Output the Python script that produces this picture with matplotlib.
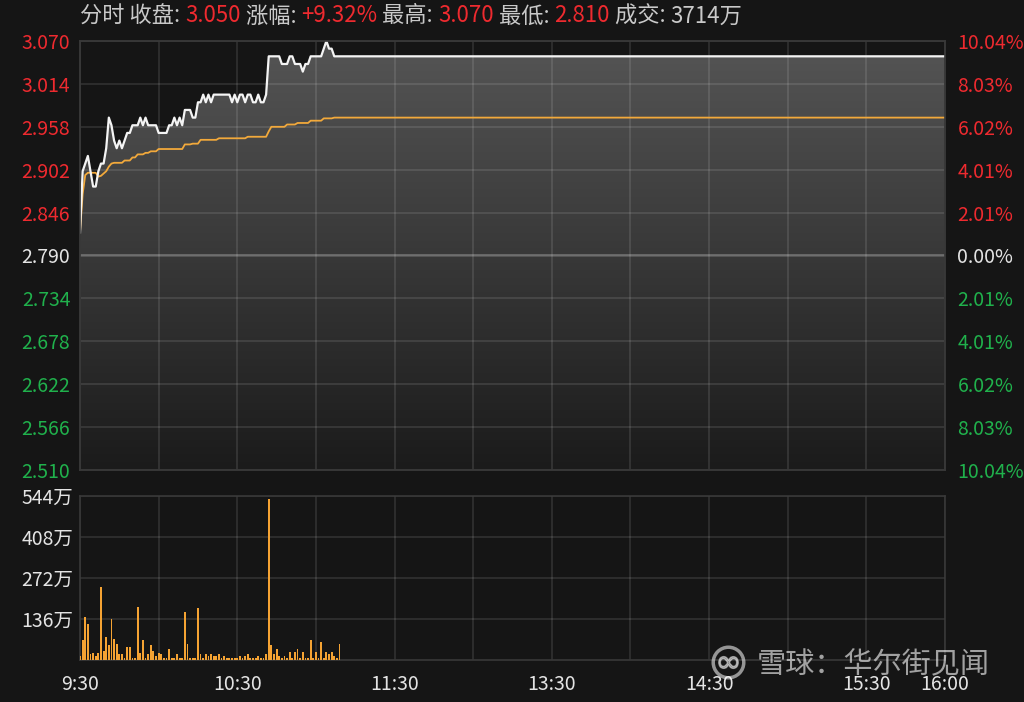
import numpy as np
import pandas as pd
import matplotlib
matplotlib.use("Agg")
import matplotlib.pyplot as plt
from matplotlib.colors import LinearSegmentedColormap
from matplotlib.offsetbox import TextArea, HPacker, AnchoredOffsetbox
from matplotlib.lines import Line2D

plt.rcParams['font.family'] = ['Noto Sans CJK SC', 'DejaVu Sans']

# ---- data (minutes after 9:30, HK session 9:30-12:00 / 13:00-16:00) ----
prev_close = 2.790
price = [2.82, 2.90, 2.91, 2.92, 2.90, 2.88, 2.88, 2.90, 2.91, 2.91,
         2.93, 2.97, 2.96, 2.94, 2.93, 2.94, 2.93, 2.94, 2.95, 2.95,
         2.96, 2.96, 2.96, 2.97, 2.96, 2.97, 2.96, 2.96, 2.96, 2.96,
         2.95, 2.95, 2.95, 2.95, 2.96, 2.96, 2.97, 2.96, 2.97, 2.96,
         2.98, 2.98, 2.98, 2.97, 2.97, 2.99, 2.99, 3.00, 2.99, 3.00,
         2.99, 3.00, 3.00, 3.00, 3.00, 3.00, 3.00, 3.00, 2.99, 3.00,
         2.99, 3.00, 3.00, 2.99, 3.00, 3.00, 2.99, 2.99, 3.00, 2.99,
         2.99, 3.00, 3.05, 3.05, 3.05, 3.05, 3.05, 3.04, 3.04, 3.04,
         3.05, 3.05, 3.04, 3.04, 3.04, 3.03, 3.04, 3.04, 3.05, 3.05,
         3.05, 3.05, 3.05, 3.06, 3.07, 3.06, 3.06, 3.05, 3.05, 3.05]
avg_price = [2.820, 2.870, 2.895, 2.898, 2.898, 2.898, 2.898, 2.893, 2.894, 2.897,
             2.900, 2.906, 2.910, 2.911, 2.911, 2.911, 2.911, 2.914, 2.914, 2.914,
             2.918, 2.918, 2.922, 2.922, 2.922, 2.924, 2.924, 2.926, 2.926, 2.926,
             2.929, 2.929, 2.929, 2.929, 2.929, 2.929, 2.929, 2.929, 2.929, 2.929,
             2.935, 2.935, 2.935, 2.936, 2.936, 2.936, 2.941, 2.941, 2.941, 2.941,
             2.941, 2.941, 2.941, 2.943, 2.943, 2.943, 2.943, 2.943, 2.943, 2.943,
             2.943, 2.943, 2.943, 2.943, 2.945, 2.945, 2.945, 2.945, 2.945, 2.945,
             2.945, 2.945, 2.952, 2.958, 2.958, 2.958, 2.958, 2.958, 2.958, 2.961,
             2.961, 2.961, 2.961, 2.963, 2.963, 2.963, 2.963, 2.963, 2.966, 2.966,
             2.966, 2.966, 2.966, 2.969, 2.969, 2.969, 2.969, 2.970, 2.970, 2.970]
volume = [13, 66, 142, 118, 20, 24, 13, 24, 241, 31,
          76, 49, 136, 71, 53, 20, 20, 7, 42, 42,
          7, 7, 177, 24, 66, 7, 20, 49, 31, 13,
          24, 20, 7, 7, 36, 7, 7, 20, 7, 7,
          159, 53, 7, 7, 7, 171, 20, 7, 20, 13,
          20, 13, 13, 20, 7, 13, 7, 7, 7, 7,
          7, 13, 7, 13, 20, 7, 7, 7, 13, 7,
          7, 20, 533, 50, 20, 36, 13, 7, 13, 7,
          25, 7, 25, 36, 7, 25, 7, 7, 66, 7,
          25, 7, 60, 7, 25, 20, 25, 13, 5, 53]  # 万

price_ticks = [3.070, 3.014, 2.958, 2.902, 2.846, 2.790, 2.734, 2.678, 2.622, 2.566, 2.510]
vol_ticks = [136, 272, 408, 544]
time_ticks = [0, 30, 60, 90, 120, 150, 180, 210, 240, 270, 300, 330]
time_labels = ['9:30', '', '10:30', '', '11:30', '', '13:30', '', '14:30', '', '15:30', '16:00']
total_minutes = 330

header = [("分时 收盘: ", 'label'), ("3.050", 'up'), (" 涨幅: ", 'label'), ("+9.32%", 'up'),
          (" 最高: ", 'label'), ("3.070", 'up'), (" 最低: ", 'label'), ("2.810", 'up'),
          (" 成交: ", 'label'), ("3714万", 'label')]

BG = '#151515'
RED = '#ee2a2f'
GREEN = '#20b14c'
WHITE = '#e4e4e4'
GRAY_TXT = '#c9c9c9'
colors = {'label': GRAY_TXT, 'up': RED}
FS = 14

t = np.arange(total_minutes + 1)
price_full = pd.Series(price).reindex(t).ffill().values
avg_full = pd.Series(avg_price).reindex(t).ffill().values

fig = plt.figure(figsize=(10.24, 7.02), dpi=100, facecolor=BG)
ax = fig.add_axes([80 / 1024, 1 - 470 / 702, 865 / 1024, 429 / 702], facecolor=BG)
axv = fig.add_axes([80 / 1024, 1 - 660 / 702, 865 / 1024, 164 / 702], facecolor=BG)

ymin, ymax = price_ticks[-1], price_ticks[0]

# gradient fill under price line
poly = ax.fill_between(t, price_full, ymin, color='none', lw=0)
cmap = LinearSegmentedColormap.from_list('g', ['#1b1b1b', '#555555'])
grad = np.linspace(1, 0, 256).reshape(-1, 1)
im = ax.imshow(grad, extent=[0, total_minutes, ymin, ymax], aspect='auto',
               cmap=cmap, origin='upper', zorder=1, interpolation='bilinear')
im.set_clip_path(poly.get_paths()[0], transform=ax.transData)

ax.plot(t, avg_full, color='#f2a93b', lw=1.3, zorder=4)
ax.plot(t, price_full, color='#f4f4f4', lw=1.6, zorder=5)
ax.axhline(prev_close, color='white', alpha=0.2, lw=1.8, zorder=3)

ax.set_xlim(0, total_minutes)
ax.set_ylim(ymin, ymax)
ax.set_yticks(price_ticks)
ax.set_yticklabels(['%.3f' % p for p in price_ticks])
for lab, p in zip(ax.get_yticklabels(), price_ticks):
    lab.set_color(RED if p > prev_close + 1e-9 else (GREEN if p < prev_close - 1e-9 else WHITE))
ax.set_xticks(time_ticks)
ax.set_xticklabels([])
ax.grid(True, color='white', alpha=0.12, lw=1.2, zorder=2)
ax.tick_params(length=0, labelsize=FS, pad=7)

axr = ax.twinx()
axr.set_ylim(ymin, ymax)
axr.set_yticks(price_ticks)
axr.set_yticklabels(['%.2f%%' % abs((p - prev_close) / prev_close * 100) for p in price_ticks])
for lab, p in zip(axr.get_yticklabels(), price_ticks):
    lab.set_color(RED if p > prev_close + 1e-9 else (GREEN if p < prev_close - 1e-9 else WHITE))
axr.tick_params(length=0, labelsize=FS, pad=9)

# volume
axv.bar(np.arange(len(volume)), volume, width=0.7, color='#f5a333', zorder=3)
axv.set_xlim(0, total_minutes)
axv.set_ylim(0, vol_ticks[-1])
axv.set_yticks(vol_ticks)
axv.set_yticklabels(['%d万' % v for v in vol_ticks], color=WHITE)
axv.set_xticks(time_ticks)
axv.set_xticklabels(time_labels, color=WHITE)
axv.grid(True, color='white', alpha=0.12, lw=1.2, zorder=1)
axv.tick_params(length=0, labelsize=FS)
axv.tick_params(axis='x', pad=10)
axv.tick_params(axis='y', pad=5)

for a in (ax, axr, axv):
    for s in a.spines.values():
        s.set_color('#383838')
        s.set_linewidth(1.2)

# header line
areas = [TextArea(s, textprops=dict(color=colors[k], fontsize=16)) for s, k in header]
box = HPacker(children=areas, align='baseline', pad=0, sep=0)
anch = AnchoredOffsetbox(loc='center left', child=box, pad=0, frameon=False, borderpad=0,
                         bbox_to_anchor=(80 / 1024, 1 - 16 / 702), bbox_transform=fig.transFigure)
fig.add_artist(anch)

# watermark
fig.text(757 / 1024, 1 - 665 / 702, '雪球：华尔街见闻', fontsize=21, color='white', alpha=0.6,
         va='center', ha='left')
fig.add_artist(Line2D([728 / 1024], [1 - 662 / 702], transform=fig.transFigure, marker='o',
                      markersize=22, mfc='none', mec='white', mew=2.5, alpha=0.55))
fig.add_artist(Line2D([728 / 1024], [1 - 662 / 702], transform=fig.transFigure, marker='$\\infty$',
                      markersize=14, color='white', alpha=0.5))

fig.savefig('out.png', dpi=100, facecolor=BG)
